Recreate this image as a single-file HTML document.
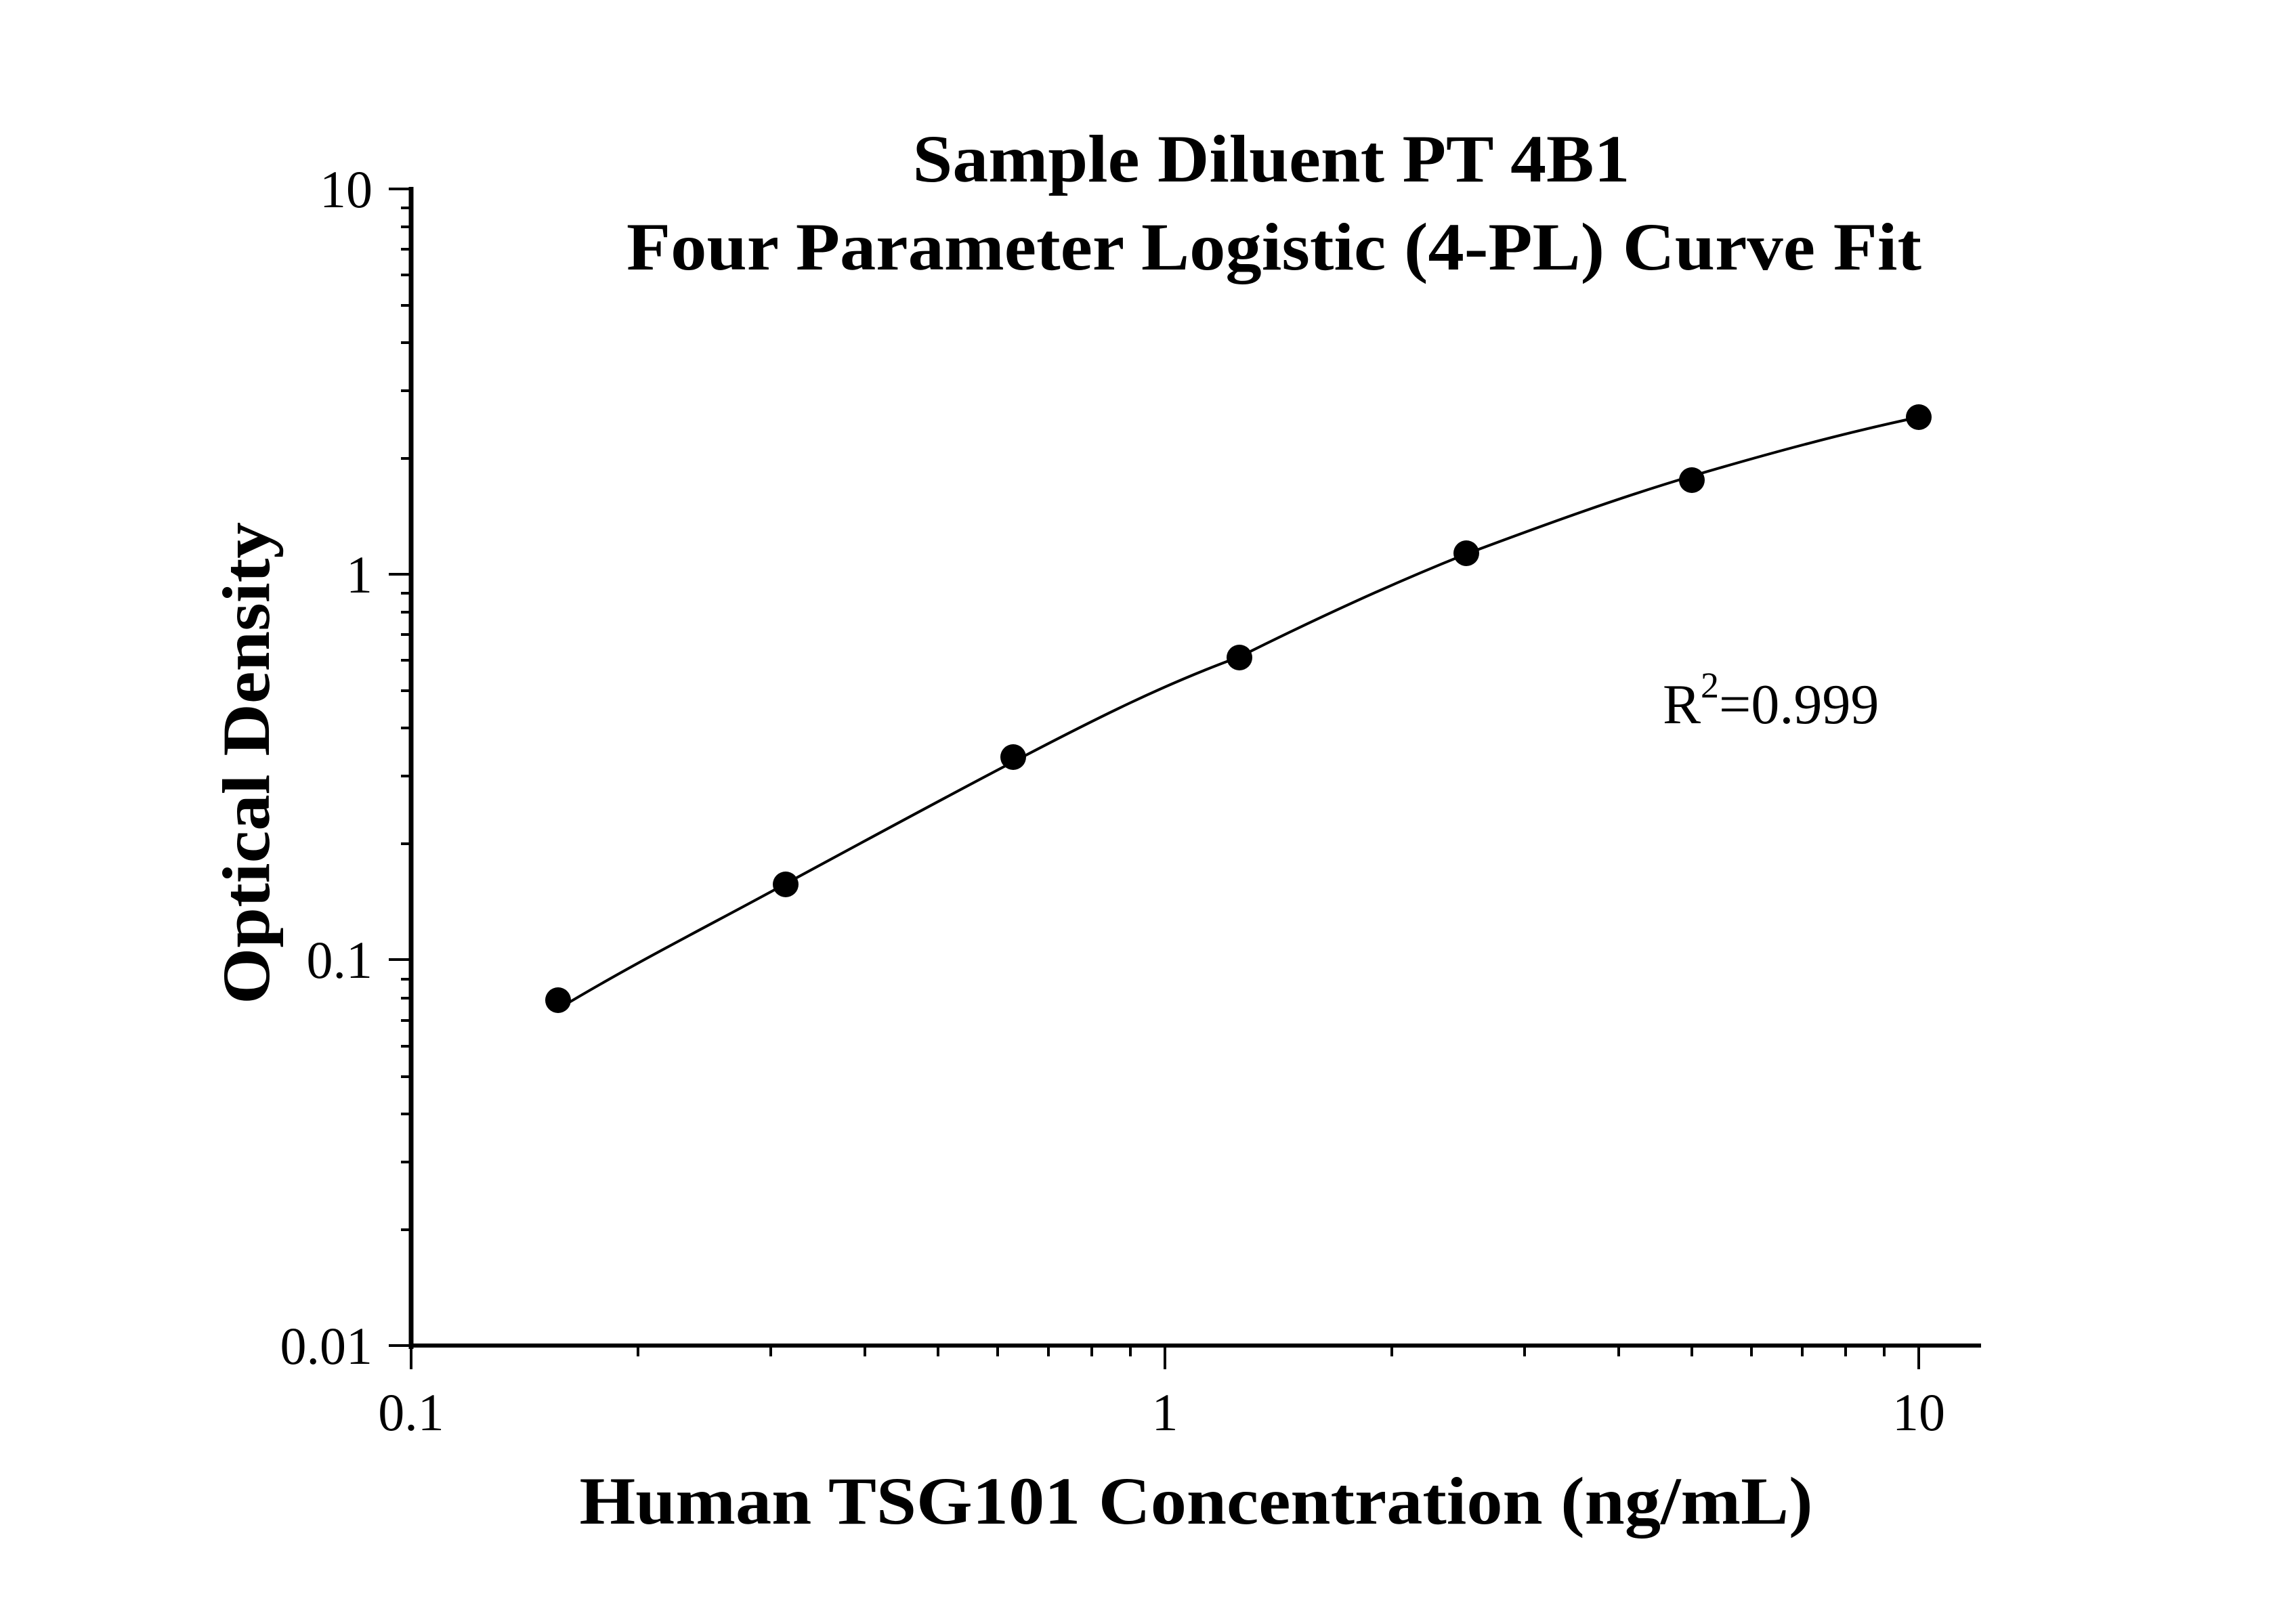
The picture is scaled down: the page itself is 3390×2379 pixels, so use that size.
<!DOCTYPE html>
<html><head><meta charset="utf-8"><style>html,body{margin:0;padding:0;background:#fff}svg{display:block}</style></head>
<body>
<svg width="3390" height="2379" viewBox="0 0 3390 2379" xmlns="http://www.w3.org/2000/svg" font-family="Liberation Serif, serif">
<rect width="3390" height="2379" fill="#fff"/>
<g font-weight="bold" fill="#000" text-anchor="middle">
<text x="1877" y="268" font-size="100" textLength="1059" lengthAdjust="spacingAndGlyphs">Sample Diluent PT 4B1</text>
<text x="1881" y="398" font-size="100" textLength="1912" lengthAdjust="spacingAndGlyphs">Four Parameter Logistic (4-PL) Curve Fit</text>
<text x="1766" y="2250" font-size="100" textLength="1821" lengthAdjust="spacingAndGlyphs">Human TSG101 Concentration (ng/mL)</text>
<text transform="translate(397,1127) rotate(-90)" font-size="100" textLength="712" lengthAdjust="spacingAndGlyphs">Optical Density</text>
</g>
<g stroke="#000" fill="none">
<line x1="607" y1="276" x2="607" y2="1992" stroke-width="7"/>
<line x1="604" y1="1987" x2="2925" y2="1987" stroke-width="6"/>
<path stroke-width="4" d="
M574 279H607 M574 848H607 M574 1417H607 M574 1987H607
M592 1816H607 M592 1716H607 M592 1645H607 M592 1590H607 M592 1545H607 M592 1507H607 M592 1474H607 M592 1446H607
M592 1246H607 M592 1146H607 M592 1075H607 M592 1020H607 M592 975H607 M592 937H607 M592 904H607 M592 876H607
M592 677H607 M592 577H607 M592 506H607 M592 451H607 M592 406H607 M592 368H607 M592 335H607 M592 307H607"/>
<path stroke-width="4" d="
M607 1987V2022 M1720 1987V2022 M2833 1987V2022
M942 1987V2003 M1138 1987V2003 M1277 1987V2003 M1385 1987V2003 M1473 1987V2003 M1548 1987V2003 M1612 1987V2003 M1669 1987V2003
M2055 1987V2003 M2251 1987V2003 M2390 1987V2003 M2498 1987V2003 M2586 1987V2003 M2661 1987V2003 M2725 1987V2003 M2782 1987V2003"/>
<path stroke-width="4" d="M824 1490 C 940 1420, 1060 1360, 1160 1305 C 1280 1240, 1400 1175, 1496 1125 C 1620 1060, 1720 1010, 1830 970 C 1950 910, 2060 860, 2165 818 C 2280 775, 2390 735, 2498 703 C 2610 670, 2720 640, 2833 616"/>
</g>
<g fill="#000">
<circle cx="824" cy="1477" r="19"/>
<circle cx="1160" cy="1306" r="19"/>
<circle cx="1496" cy="1118" r="19"/>
<circle cx="1830" cy="971" r="19"/>
<circle cx="2165" cy="817" r="19"/>
<circle cx="2498" cy="709" r="19"/>
<circle cx="2833" cy="616" r="19"/>
</g>
<g font-size="78" fill="#000">
<g text-anchor="end">
<text x="550" y="306">10</text>
<text x="550" y="875">1</text>
<text x="550" y="1444">0.1</text>
<text x="550" y="2014">0.01</text>
</g>
<g text-anchor="middle">
<text x="607" y="2112">0.1</text>
<text x="1720" y="2112">1</text>
<text x="2833" y="2112">10</text>
</g>
<text x="2455" y="1068" font-size="84">R<tspan font-size="54" dy="-38">2</tspan><tspan dy="38">=0.999</tspan></text>
</g>
</svg>
</body></html>
